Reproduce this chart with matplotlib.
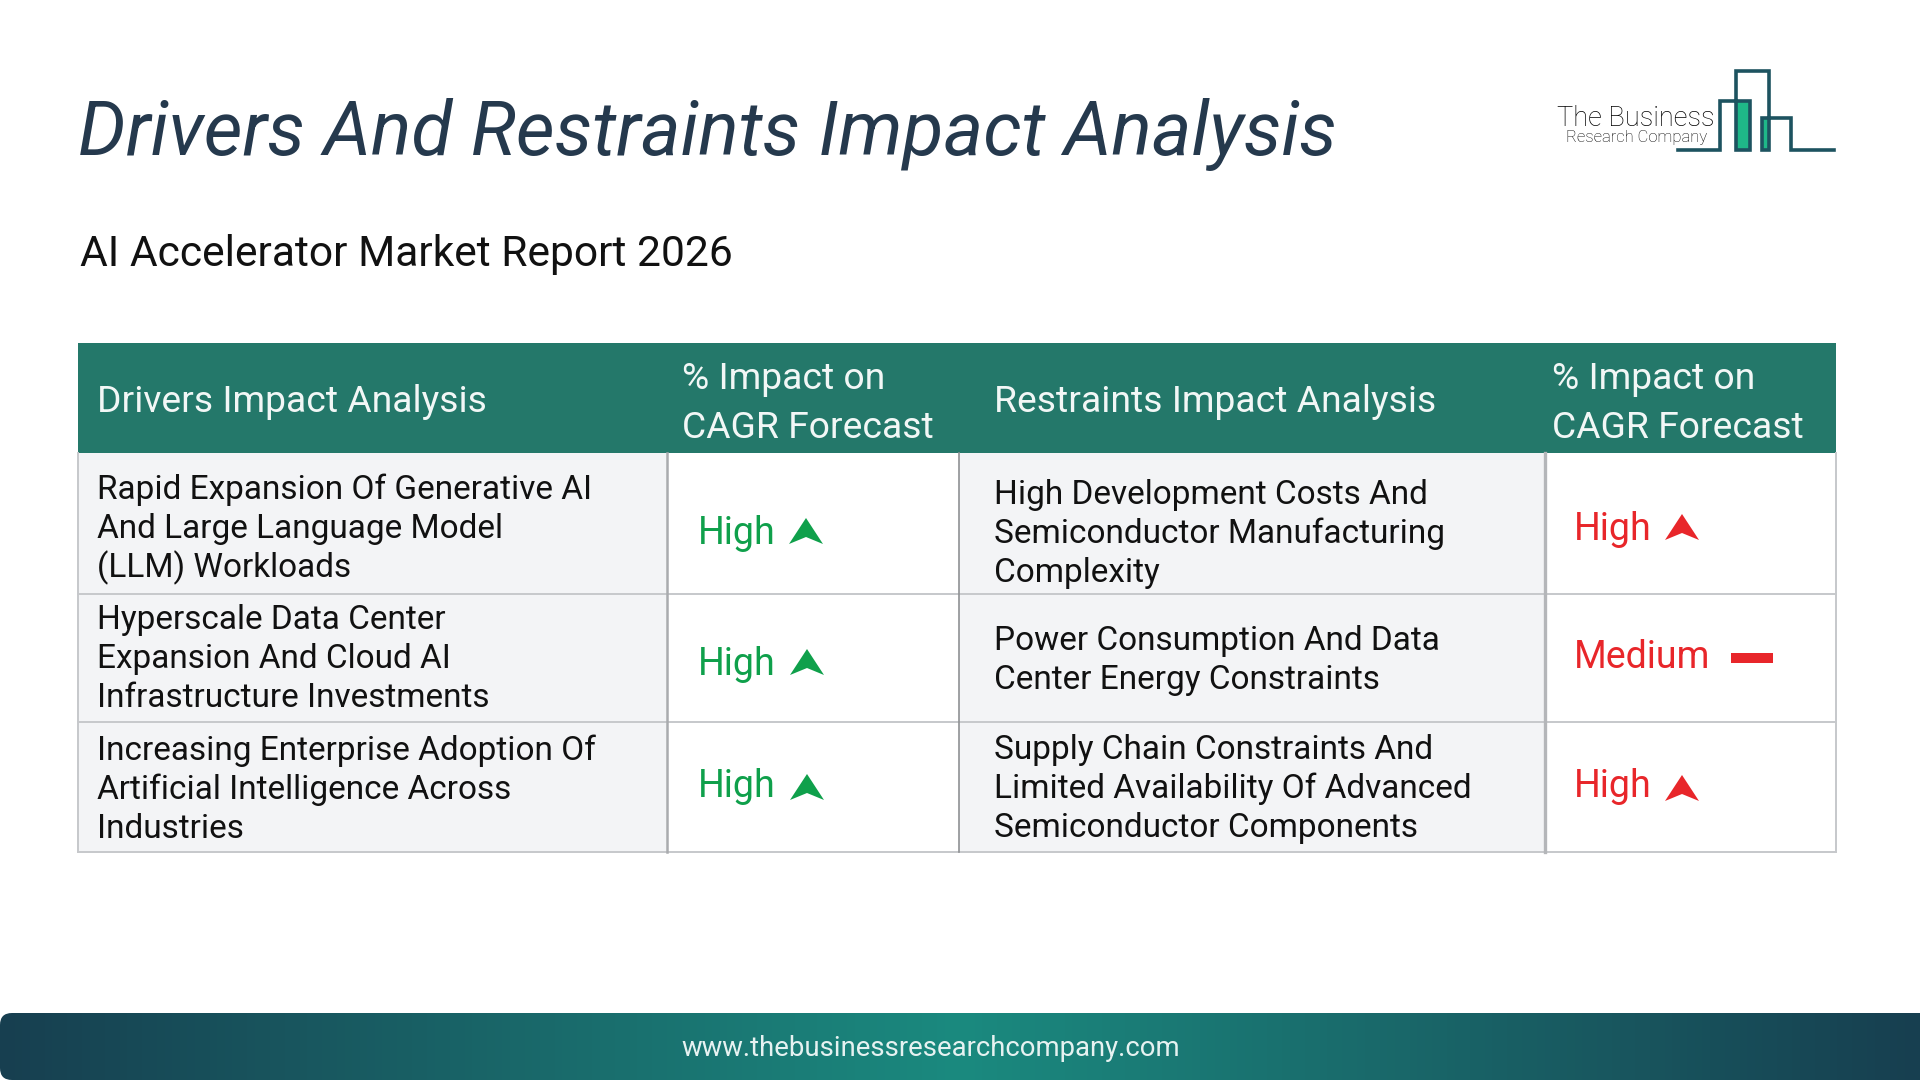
import numpy as np
import matplotlib
matplotlib.use('Agg')
import matplotlib.pyplot as plt
from matplotlib.patches import Rectangle, FancyBboxPatch, Polygon
from matplotlib.colors import LinearSegmentedColormap

plt.rcParams['font.family'] = ['Roboto', 'DejaVu Sans']

title = 'Drivers And Restraints Impact Analysis'
subtitle = 'AI Accelerator Market Report 2026'
footer = 'www.thebusinessresearchcompany.com'

headers = ['Drivers Impact Analysis', '% Impact on\nCAGR Forecast',
           'Restraints Impact Analysis', '% Impact on\nCAGR Forecast']
drivers = [
    ['Rapid Expansion Of Generative AI', 'And Large Language Model', '(LLM) Workloads'],
    ['Hyperscale Data Center', 'Expansion And Cloud AI', 'Infrastructure Investments'],
    ['Increasing Enterprise Adoption Of', 'Artificial Intelligence Across', 'Industries'],
]
restraints = [
    ['High Development Costs And', 'Semiconductor Manufacturing', 'Complexity'],
    ['Power Consumption And Data', 'Center Energy Constraints'],
    ['Supply Chain Constraints And', 'Limited Availability Of Advanced', 'Semiconductor Components'],
]
driver_impact = ['High', 'High', 'High']
restraint_impact = ['High', 'Medium', 'High']

# layout, in pixels of the 1920x1080 picture
col_x = [77.5, 667, 959, 1545, 1836]
row_y = [453, 594, 722, 852]
driver_base = [499, 629, 760]
restraint_base = [504, 650, 759]
driver_imp_base = [544, 675, 797]
driver_arrow = [(806, 544), (807, 675), (807, 800)]
restraint_imp_base = [540, 668, 797]
restraint_arrow = [(1682, 540), (1752, 658), (1682, 801)]

GREEN = '#0fa04b'
RED = '#e8262a'
HEADER = '#24786a'
LINE = '#c6c8cb'
LOGO = '#1d5360'
BODY_SIZE = 24
HEAD_SIZE = 26.85
LEAD = 39


def arrow(ax, x, base, color):
    ax.add_patch(Polygon([(x, base - 26), (x + 17, base), (x, base - 7), (x - 17, base)],
                         closed=True, color=color, lw=0, zorder=4))


fig = plt.figure(figsize=(19.2, 10.8), dpi=100, facecolor='white')
ax = fig.add_axes([0, 0, 1, 1])
ax.set_xlim(0, 1920)
ax.set_ylim(1080, 0)
ax.axis('off')

ax.text(78, 155, title, fontsize=54.2, style='italic', color='#25394d')
ax.text(80, 266, subtitle, fontsize=30.7, color='#111111')

# header band
ax.add_patch(Rectangle((col_x[0], 343), col_x[-1] - col_x[0], row_y[0] - 343, color=HEADER, lw=0))
ax.text(97, 412, headers[0], fontsize=HEAD_SIZE, color='#f2f7f6')
ax.text(994, 412, headers[2], fontsize=HEAD_SIZE, color='#f2f7f6')
for x, head in zip([682, 1551.5], [headers[1], headers[3]]):
    line1, line2 = head.split('\n')
    ax.text(x, 389, line1, fontsize=HEAD_SIZE, color='#f2f7f6')
    ax.text(x, 438, line2, fontsize=HEAD_SIZE, color='#f2f7f6')

# grey text columns
for i in [0, 2]:
    ax.add_patch(Rectangle((col_x[i], row_y[0]), col_x[i + 1] - col_x[i], row_y[-1] - row_y[0],
                           color='#f3f4f6', lw=0, zorder=1))

# grid
for y in row_y[1:]:
    ax.plot([col_x[0], col_x[-1]], [y, y], color=LINE, lw=1.4, zorder=2)
for x, lw, c in zip(col_x, [1.4, 1.8, 1.2, 2.4, 1.4], [LINE, '#a9abae', '#8f9194', '#b4b6b9', LINE]):
    ax.plot([x, x], [row_y[0], row_y[-1]], color=c, lw=lw, zorder=3)

for lines, base in zip(drivers, driver_base):
    for k, line in enumerate(lines):
        ax.text(97, base + k * LEAD, line, fontsize=BODY_SIZE, color='#111111', zorder=5)
for lines, base in zip(restraints, restraint_base):
    for k, line in enumerate(lines):
        ax.text(994, base + k * LEAD, line, fontsize=BODY_SIZE, color='#111111', zorder=5)

for label, base, pos in zip(driver_impact, driver_imp_base, driver_arrow):
    ax.text(698, base, label, fontsize=27, color=GREEN, zorder=5)
    arrow(ax, pos[0], pos[1], GREEN)
for label, base, pos in zip(restraint_impact, restraint_imp_base, restraint_arrow):
    ax.text(1574, base, label, fontsize=27, color=RED, zorder=5)
    if label == 'Medium':
        ax.add_patch(Rectangle((pos[0] - 21, pos[1] - 5), 42, 10, color=RED, lw=0, zorder=4))
    else:
        arrow(ax, pos[0], pos[1], RED)

# logo
logo_x = np.array([533, 660, 660, 750, 750, 708, 708, 806, 806, 785, 785, 873, 873, 1003]) / 3 + 1500
logo_y = np.array([300, 300, 152, 152, 300, 300, 63, 63, 300, 300, 203, 203, 300, 300]) / 3 + 50
ax.add_patch(Rectangle((1737, 102), 13, 47, color='#1fb888', lw=0))
ax.add_patch(Rectangle((1763, 118), 6, 31, color='#1fb888', lw=0))
ax.plot(logo_x, logo_y, color=LOGO, lw=2.6, solid_joinstyle='miter', zorder=4)
ax.text(1557, 126, 'The Business', fontsize=19.6, color='#000000', family='Roboto', weight='light')
ax.text(1566, 142, 'Research Company', fontsize=12, color='#000000', family='Roboto', weight='light')

# footer bar with gradient, rounded on the left only
cmap = LinearSegmentedColormap.from_list('foot', ['#173f50', '#1b8a7f', '#173f50'])
im = ax.imshow(np.linspace(0, 1, 512).reshape(1, -1), cmap=cmap, extent=[0, 1920, 1080, 1013],
               aspect='auto', zorder=1)
clip = FancyBboxPatch((12, 1025), 1960, 43, boxstyle='round,pad=12', transform=ax.transData,
                      facecolor='none', edgecolor='none')
ax.add_patch(clip)
im.set_clip_path(clip)
ax.set_xlim(0, 1920)
ax.set_ylim(1080, 0)
ax.text(931, 1056, footer, fontsize=19.85, color='#e6f2f1', ha='center', zorder=5)

fig.savefig('out.png', dpi=100)
